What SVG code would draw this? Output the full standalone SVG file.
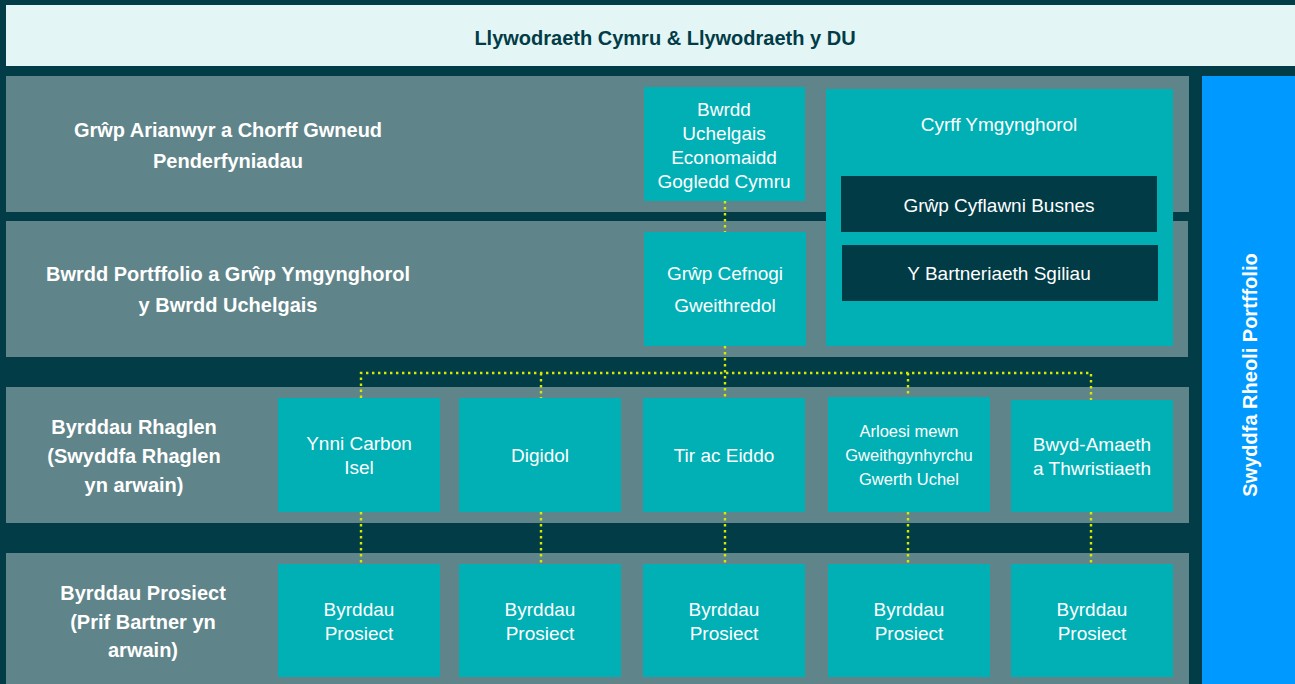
<svg xmlns="http://www.w3.org/2000/svg" width="1295" height="684" viewBox="0 0 1295 684">
<style>
.lbl{font-family:"Liberation Sans",Arial,sans-serif;font-weight:bold;font-size:20px;fill:#ffffff;text-anchor:middle}
.box{fill:#00b0b5}
.dark{fill:#003b46}
.row{fill:#5f8489}
.bt{font-family:"Liberation Sans",Arial,sans-serif;font-size:19px;fill:#ffffff;text-anchor:middle}
.sm{font-size:16.5px}
.dot{fill:none;stroke:#d6ea00;stroke-width:2.4;stroke-dasharray:2.4 3.6}
</style>
<rect x="0" y="0" width="1295" height="684" fill="#013c47"/>
<g id="top">
<rect x="6" y="5" width="1289" height="61" fill="#e4f5f5"/>
<text x="665" y="45" font-family="Liberation Sans, Arial, sans-serif" font-weight="bold" font-size="20" fill="#013c47" text-anchor="middle">Llywodraeth Cymru &amp; Llywodraeth y DU</text>
</g>
<g id="row1">
<rect class="row" x="6" y="76" width="1183" height="136"/>
<text class="lbl" x="228" y="137">Grŵp Arianwyr a Chorff Gwneud</text>
<text class="lbl" x="228" y="168">Penderfyniadau</text>
</g>
<g id="row2">
<rect class="row" x="6" y="221" width="1182" height="136"/>
<text class="lbl" x="228" y="281">Bwrdd Portffolio a Grŵp Ymgynghorol</text>
<text class="lbl" x="228" y="312">y Bwrdd Uchelgais</text>
</g>
<g id="row3">
<rect class="row" x="6" y="387" width="1183" height="136"/>
<text class="lbl" x="134" y="434">Byrddau Rhaglen</text>
<text class="lbl" x="134" y="463">(Swyddfa Rhaglen</text>
<text class="lbl" x="134" y="492">yn arwain)</text>
</g>
<g id="row4">
<rect class="row" x="6" y="553" width="1183" height="131"/>
<text class="lbl" x="143" y="600">Byrddau Prosiect</text>
<text class="lbl" x="143" y="629">(Prif Bartner yn</text>
<text class="lbl" x="143" y="657">arwain)</text>
</g>
<g id="swyddfa-rheoli">
<rect x="1202" y="76" width="93" height="608" fill="#0099ff"/>
<text class="lbl" transform="translate(1257,375) rotate(-90)">Swyddfa Rheoli Portffolio</text>
</g>
<g id="bwrdd-uchelgais">
<rect class="box" x="644" y="87" width="161" height="114"/>
<text class="bt" x="724" y="116">Bwrdd</text>
<text class="bt" x="724" y="140">Uchelgais</text>
<text class="bt" x="724" y="164">Economaidd</text>
<text class="bt" x="724" y="188">Gogledd Cymru</text>
</g>
<g id="cyrff-ymgynghorol">
<rect class="box" x="826" y="89" width="347" height="257"/>
<text class="bt" x="999" y="131">Cyrff Ymgynghorol</text>
</g>
<g id="grwp-cyflawni">
<rect class="dark" x="841" y="176" width="316" height="56"/>
<text class="bt" x="999" y="212">Grŵp Cyflawni Busnes</text>
</g>
<g id="partneriaeth-sgiliau">
<rect class="dark" x="842" y="245" width="316" height="56"/>
<text class="bt" x="999" y="280">Y Bartneriaeth Sgiliau</text>
</g>
<g id="grwp-cefnogi">
<rect class="box" x="644" y="232" width="162" height="114"/>
<text class="bt" x="725" y="280">Grŵp Cefnogi</text>
<text class="bt" x="725" y="312">Gweithredol</text>
</g>
<g id="ynni">
<rect class="box" x="278" y="398" width="162" height="114"/>
<text class="bt" x="359" y="450">Ynni Carbon</text>
<text class="bt" x="359" y="474">Isel</text>
</g>
<g id="digidol">
<rect class="box" x="459" y="398" width="162" height="114"/>
<text class="bt" x="540" y="462">Digidol</text>
</g>
<g id="tir">
<rect class="box" x="643" y="398" width="162" height="114"/>
<text class="bt" x="724" y="462">Tir ac Eiddo</text>
</g>
<g id="arloesi">
<rect class="box" x="828" y="397" width="162" height="115"/>
<text class="bt sm" x="909" y="437">Arloesi mewn</text>
<text class="bt sm" x="909" y="461">Gweithgynhyrchu</text>
<text class="bt sm" x="909" y="485">Gwerth Uchel</text>
</g>
<g id="bwyd">
<rect class="box" x="1011" y="400" width="162" height="112"/>
<text class="bt" x="1092" y="451">Bwyd-Amaeth</text>
<text class="bt" x="1092" y="475">a Thwristiaeth</text>
</g>
<g id="prosiect1">
<rect class="box" x="278" y="564" width="162" height="113"/>
<text class="bt" x="359" y="616">Byrddau</text>
<text class="bt" x="359" y="640">Prosiect</text>
</g>
<g id="prosiect2">
<rect class="box" x="459" y="564" width="162" height="113"/>
<text class="bt" x="540" y="616">Byrddau</text>
<text class="bt" x="540" y="640">Prosiect</text>
</g>
<g id="prosiect3">
<rect class="box" x="643" y="564" width="162" height="113"/>
<text class="bt" x="724" y="616">Byrddau</text>
<text class="bt" x="724" y="640">Prosiect</text>
</g>
<g id="prosiect4">
<rect class="box" x="828" y="564" width="162" height="113"/>
<text class="bt" x="909" y="616">Byrddau</text>
<text class="bt" x="909" y="640">Prosiect</text>
</g>
<g id="prosiect5">
<rect class="box" x="1011" y="564" width="162" height="113"/>
<text class="bt" x="1092" y="616">Byrddau</text>
<text class="bt" x="1092" y="640">Prosiect</text>
</g>
<g id="connectors">
<path class="dot" d="M725 201V232"/>
<path class="dot" d="M725 346V398"/>
<path class="dot" d="M361 398V373H1091V400"/>
<path class="dot" d="M541 373V398"/>
<path class="dot" d="M908 373V397"/>
<path class="dot" d="M361 512V564"/>
<path class="dot" d="M541 512V564"/>
<path class="dot" d="M725 512V564"/>
<path class="dot" d="M908 512V564"/>
<path class="dot" d="M1091 512V564"/>
</g>
</svg>
